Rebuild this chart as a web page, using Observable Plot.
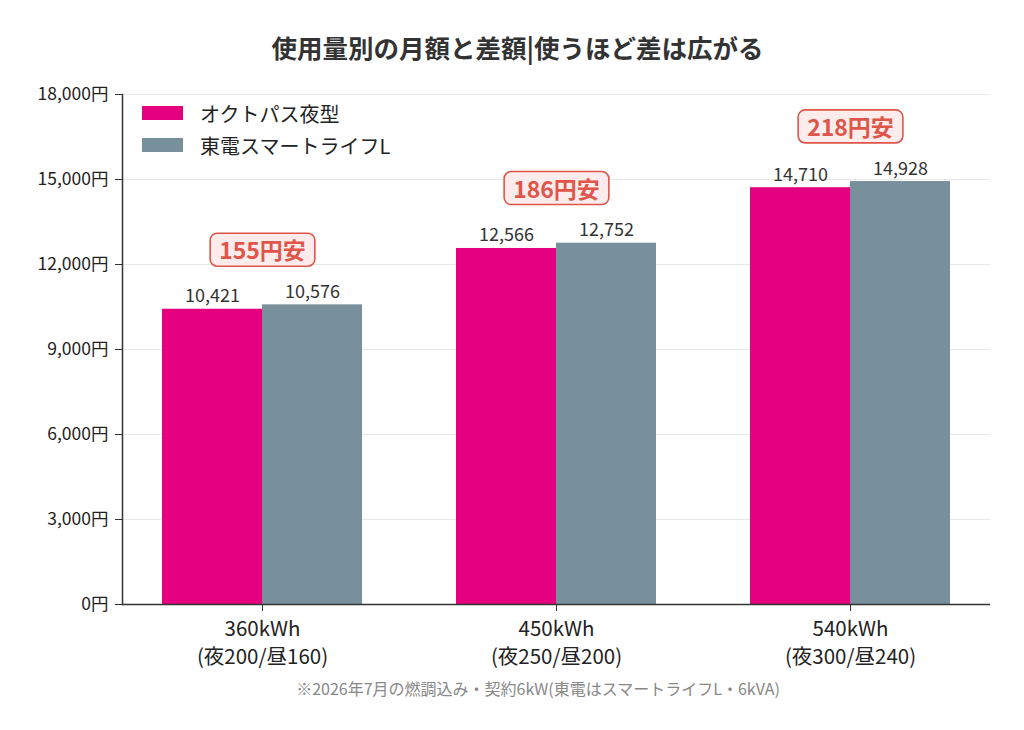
<!DOCTYPE html>
<html>
<head>
<meta charset="utf-8">
<script src="https://cdn.jsdelivr.net/npm/d3@7"></script>
<script src="https://cdn.jsdelivr.net/npm/@observablehq/plot@0.6"></script>
<style>
  body { margin:0; background:#fff; font-family:"Noto Sans CJK JP","Noto Sans",sans-serif; }
  #wrap { position:relative; width:1024px; height:730px; }
  #title { height:80px; box-sizing:border-box; padding-top:32px; padding-left:11px; line-height:30px; text-align:center; font-size:25.5px; font-weight:bold; color:#333; }
  #foot { line-height:36px; text-align:center; padding-left:52px; font-size:16px; color:#888; }
  #legend { position:absolute; left:142px; top:99px; font-size:20px; color:#222; }
  .row { display:flex; align-items:center; height:28px; margin-bottom:4px; }
  .sw { width:41px; height:14px; margin-right:17px; }
  svg { display:block; }
</style>
</head>
<body>
<div id="wrap">
  <div id="title">使用量別の月額と差額|使うほど差は広がる</div>
  <div id="chart"></div>
  <div id="foot">※2026年7月の燃調込み・契約6kW(東電はスマートライフL・6kVA)</div>
  <div id="legend"></div>
</div>
<script>
const categories = ["360kWh\n(夜200/昼160)", "450kWh\n(夜250/昼200)", "540kWh\n(夜300/昼240)"];
const seriesNames = ["オクトパス夜型", "東電スマートライフL"];
const seriesColors = ["#e4007f", "#78909c"];
const octopus = [10421, 12566, 14710];
const tepco = [10576, 12752, 14928];
const yTicks = [0, 3000, 6000, 9000, 12000, 15000, 18000];

const rows = categories.map((c, i) => ({
  cat: c, a: octopus[i], b: tepco[i],
  top: Math.max(octopus[i], tepco[i]),
  diff: tepco[i] - octopus[i]
}));

const half = 100;
const chart = Plot.plot({
  width: 1024, height: 590,
  marginLeft: 122, marginRight: 34, marginTop: 14, marginBottom: 66,
  style: { fontFamily: "'Noto Sans CJK JP', sans-serif", color: "#222", background: "transparent" },
  x: { domain: categories, paddingInner: 0.32, paddingOuter: 0.136, label: null },
  y: { domain: [0, 18000], label: null },
  marks: [
    Plot.gridY(yTicks, { stroke: "#e8e8e8", strokeOpacity: 1, strokeWidth: 1 }),
    Plot.barY(rows, { x: "cat", y: "a", fill: seriesColors[0], insetRight: half }),
    Plot.barY(rows, { x: "cat", y: "b", fill: seriesColors[1], insetLeft: half }),
    Plot.text(rows, { x: "cat", y: "a", text: d => d3.format(",")(d.a), dx: -half / 2, dy: -7, lineAnchor: "bottom", fontSize: 18, fill: "#333" }),
    Plot.text(rows, { x: "cat", y: "b", text: d => d3.format(",")(d.b), dx: half / 2, dy: -7, lineAnchor: "bottom", fontSize: 18, fill: "#333" }),
    Plot.text(rows, { x: "cat", y: "top", text: d => d.diff + "円安", dy: -53, lineAnchor: "middle", fontSize: 23, fontWeight: "bold", fill: "#e0554a", className: "saving" }),
    Plot.ruleY([0], { stroke: "#333", strokeWidth: 1.5 }),
    Plot.frame({ anchor: "left", stroke: "#333", strokeWidth: 1.5 }),
    Plot.axisY(yTicks, { tickFormat: d => d3.format(",")(d) + "円", tickSize: 7, tickPadding: 7, fontSize: 17.5, label: null, stroke: "#333" }),
    Plot.axisX({ tickSize: 7, tickPadding: 5, fontSize: 20.5, lineHeight: 1.36, label: null, stroke: "#333" })
  ]
});
document.getElementById("chart").appendChild(chart);

// rounded boxes behind savings labels
const svgNS = "http://www.w3.org/2000/svg";
let group = chart.querySelector("g.saving");
if (group) {
  group.querySelectorAll("text").forEach(t => {
    const bb = t.getBBox();
    const r = document.createElementNS(svgNS, "rect");
    r.setAttribute("x", bb.x - 9);
    r.setAttribute("y", bb.y + 1);
    r.setAttribute("width", bb.width + 18);
    r.setAttribute("height", bb.height - 1);
    r.setAttribute("rx", 7);
    r.setAttribute("fill", "#fdeceb");
    r.setAttribute("stroke", "#e0554a");
    r.setAttribute("stroke-width", 1.6);
    if (t.getAttribute("transform")) r.setAttribute("transform", t.getAttribute("transform"));
    t.parentNode.insertBefore(r, t);
  });
}

const legend = document.getElementById("legend");
seriesNames.forEach((n, i) => {
  const row = document.createElement("div");
  row.className = "row";
  row.innerHTML = `<div class="sw" style="background:${seriesColors[i]}"></div><span>${n}</span>`;
  legend.appendChild(row);
});
</script>
</body>
</html>
